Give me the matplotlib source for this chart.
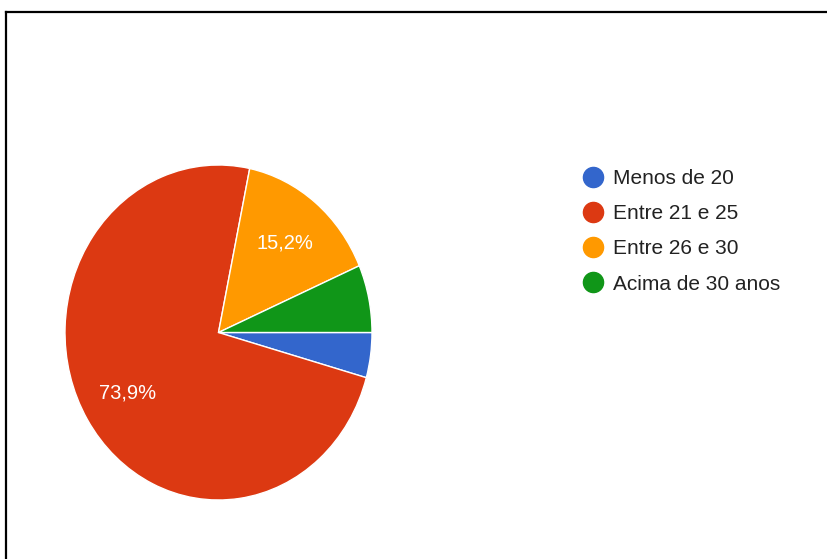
import matplotlib.pyplot as plt
from matplotlib.lines import Line2D

plt.rcParams['font.family'] = ['Liberation Sans', 'DejaVu Sans']

# Data (46 respondents)
categories = ['Menos de 20', 'Entre 21 e 25', 'Entre 26 e 30', 'Acima de 30 anos']
counts = [2, 34, 7, 3]
colors = ['#3366cc', '#dc3912', '#ff9900', '#109618']

W, H = 827, 559
fig = plt.figure(figsize=(W / 100, H / 100), dpi=100)
fig.patch.set_facecolor('white')

# pie area in pixels (slightly taller than wide, as in the reference)
x0, x1, y0, y1 = 65, 372, 165, 500
ax = fig.add_axes([x0 / W, 1 - y1 / H, (x1 - x0) / W, (y1 - y0) / H])


def pct_label(p):
    return f'{p:.1f}%'.replace('.', ',') if p > 10 else ''


wedges, texts, autotexts = ax.pie(
    counts, colors=colors, startangle=0, counterclock=False,
    autopct=pct_label, pctdistance=0.69,
    wedgeprops=dict(edgecolor='white', linewidth=1),
    textprops=dict(color='white', fontsize=14.5))
ax.set_aspect('auto')
ax.set_xlim(-1, 1)
ax.set_ylim(-1, 1)
ax.axis('off')

# legend with round markers
handles = [Line2D([], [], marker='o', linestyle='', markersize=14.5,
                  markerfacecolor=c, markeredgecolor=c) for c in colors]
leg = fig.legend(handles, categories, loc='upper left',
                 bbox_to_anchor=(572 / W, 1 - 160.5 / H), frameon=False,
                 fontsize=15, labelspacing=0.78, handletextpad=0.39,
                 handlelength=1.2, borderaxespad=0)
for t in leg.get_texts():
    t.set_color('#222222')

# outer frame (top and left edges only)
fig.add_artist(Line2D([5.5 / W, 1.0], [1 - 11.5 / H, 1 - 11.5 / H],
                      transform=fig.transFigure, color='black', lw=1.6))
fig.add_artist(Line2D([5.5 / W, 5.5 / W], [0.0, 1 - 11.5 / H],
                      transform=fig.transFigure, color='black', lw=1.6))

fig.savefig('out.png', dpi=100)
